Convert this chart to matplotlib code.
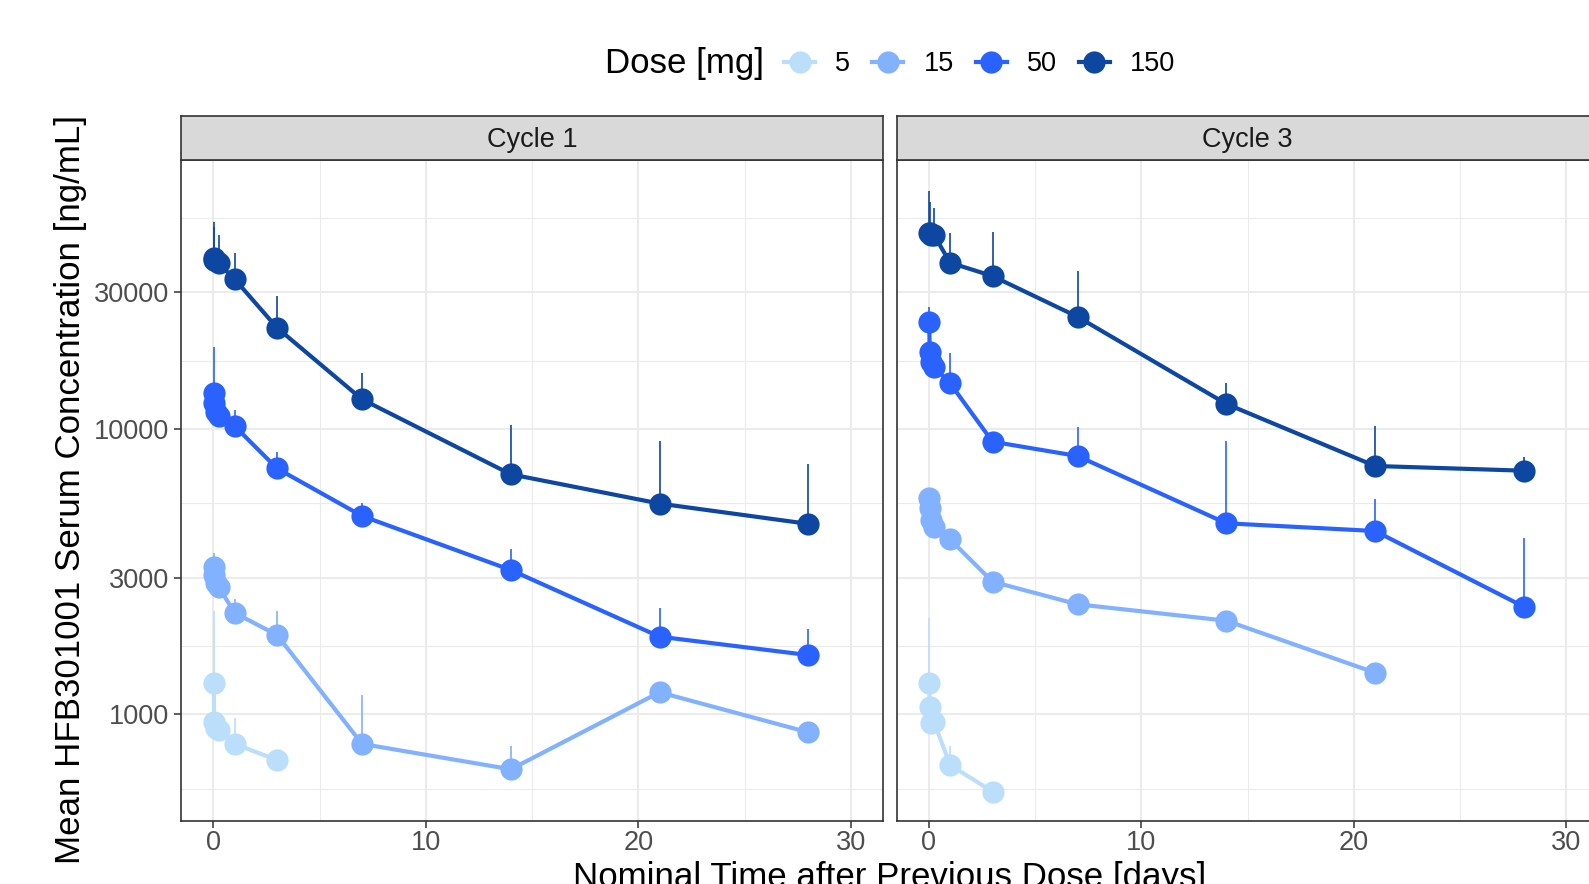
import numpy as np
import matplotlib
matplotlib.use("Agg")
import matplotlib.pyplot as plt
from matplotlib.lines import Line2D
from matplotlib.ticker import FixedLocator, NullFormatter, FixedFormatter

plt.rcParams['font.family'] = ['Liberation Sans', 'DejaVu Sans']

nan = np.nan

# ---------------- data ----------------
doses = ["5", "15", "50", "150"]
dose_colors = ["#BBDEFB", "#82B1FF", "#2962FF", "#0D47A1"]
cycles = ["Cycle 1", "Cycle 3"]

t_short = [0.021, 0.042, 0.125, 0.25, 1, 3]
t_mid = [0.021, 0.042, 0.125, 0.25, 1, 3, 7, 14, 21]
t_full = [0.021, 0.042, 0.125, 0.25, 1, 3, 7, 14, 21, 28]

# Cycle 1: mean and mean+SD
c1_5_mean = [1286, 944, 895, 883, 789, 693]
c1_5_upper = [2305, nan, nan, nan, 970, nan]
c1_15_mean = [3290, 3076, 2877, 2800, 2270, 1897, 789, 643, 1196, 866]
c1_15_upper = [3665, nan, nan, nan, 2530, 2305, 1170, 778, nan, nan]
c1_50_mean = [13370, 12330, 11470, 11070, 10220, 7260, 4950, 3203, 1872, 1614]
c1_50_upper = [19270, nan, nan, nan, 11610, 8320, 5510, 3785, 2366, 1991]
c1_150_mean = [39700, 39000, 38500, 37850, 33400, 22550, 12670, 6925, 5470, 4645]
c1_150_upper = [53000, 50800, nan, 47700, 41100, 29200, 15630, 10300, 9080, 7500]

# Cycle 3: mean and mean+SD
c3_5_mean = [1286, 1065, 931, 940, 666, 537]
c3_5_upper = [2182, nan, nan, nan, 776, nan]
c3_15_mean = [5710, 5265, 4792, 4540, 4100, 2915, 2430, 2129, 1400]
c3_15_upper = [nan, nan, nan, nan, nan, nan, nan, nan, nan]
c3_50_mean = [23700, 18590, 17150, 16470, 14420, 9005, 8025, 4667, 4385, 2383]
c3_50_upper = [26600, nan, nan, nan, 18450, nan, 10110, 9060, 5665, 4135]
c3_150_mean = [48500, 48300, 47800, 47600, 38100, 34200, 24640, 12210, 7405, 7130]
c3_150_upper = [68000, 62300, nan, 59000, 48300, 48650, 35600, 14420, 10220, 7980]

y_breaks = [1000, 3000, 10000, 30000]
x_breaks = [0, 10, 20, 30]

panel_data = {
    "Cycle 1": [(t_short, c1_5_mean, c1_5_upper),
                (t_full, c1_15_mean, c1_15_upper),
                (t_full, c1_50_mean, c1_50_upper),
                (t_full, c1_150_mean, c1_150_upper)],
    "Cycle 3": [(t_short, c3_5_mean, c3_5_upper),
                (t_mid, c3_15_mean, c3_15_upper),
                (t_full, c3_50_mean, c3_50_upper),
                (t_full, c3_150_mean, c3_150_upper)],
}

# ---------------- layout ----------------
W, H = 1589, 884
fig = plt.figure(figsize=(W / 100, H / 100), dpi=100)

def fx(px):
    return px / W

def fy(py):
    return 1 - py / H

panel_top, panel_bot = 160.1, 820.9
strip_top = 115.5
panel_lefts = [181.4, 896.9]
panel_w = 701.3

tick_col = "#4D4D4D"
frame_col = "#333333"
grid_col = "#EBEBEB"
small_fs = 19.5
big_fs = 25.1
line_w = 3.0
marker_s = 16.0

minor_y = [10 ** v for v in [2.7386, 3.2386, 3.7386, 4.2386, 4.7386]]

for i, cyc in enumerate(cycles):
    left = panel_lefts[i]
    ax = fig.add_axes([fx(left), fy(panel_bot), panel_w / W, (panel_bot - panel_top) / H])
    ax.set_yscale("log")
    ax.set_xlim(-1.5, 31.5)
    ax.set_ylim(424.3, 87060)
    ax.yaxis.set_major_locator(FixedLocator(y_breaks))
    ax.yaxis.set_minor_locator(FixedLocator(minor_y))
    ax.yaxis.set_minor_formatter(NullFormatter())
    ax.xaxis.set_major_locator(FixedLocator(x_breaks))
    ax.xaxis.set_minor_locator(FixedLocator([5, 15, 25]))
    ax.grid(True, which="major", color=grid_col, lw=1.4, zorder=0)
    ax.grid(True, which="minor", color=grid_col, lw=0.8, zorder=0)
    ax.set_axisbelow(True)
    for sp in ax.spines.values():
        sp.set_color(frame_col)
        sp.set_linewidth(1.2)
        sp.set_zorder(5)
    ax.tick_params(which="major", direction="out", length=5, width=1.1,
                   color=frame_col, labelcolor=tick_col, labelsize=small_fs)
    ax.tick_params(which="minor", length=0)
    ax.tick_params(axis="x", pad=1.5)
    ax.tick_params(axis="y", pad=3.5)
    if i == 0:
        ax.yaxis.set_major_formatter(FixedFormatter([str(v) for v in y_breaks]))
    else:
        ax.tick_params(axis="y", which="both", left=False, labelleft=False)
    ax.xaxis.set_major_formatter(FixedFormatter([str(v) for v in x_breaks]))

    series = panel_data[cyc]
    # lines layer
    for (t, m, u), c in zip(series, dose_colors):
        ax.plot(t, m, "-", color=c, lw=line_w, zorder=2, solid_capstyle="butt")
    # error bar layer (mean to mean+SD)
    for (t, m, u), c in zip(series, dose_colors):
        t_a, m_a, u_a = np.array(t), np.array(m, float), np.array(u, float)
        ok = ~np.isnan(u_a)
        ax.vlines(t_a[ok], m_a[ok], u_a[ok], color=c, lw=1.2, zorder=2.5)
    # points layer
    for (t, m, u), c in zip(series, dose_colors):
        ax.plot(t, m, "o", color=c, ms=marker_s, mew=0, zorder=3, linestyle="none")

    # strip
    sax = fig.add_axes([fx(left), fy(panel_top), panel_w / W, (panel_top - strip_top) / H])
    sax.set_facecolor("#D9D9D9")
    sax.set_xticks([])
    sax.set_yticks([])
    for sp in sax.spines.values():
        sp.set_color(frame_col)
        sp.set_linewidth(1.2)
    sax.text(0.5, 0.44, cyc, ha="center", va="center", fontsize=small_fs,
             color="#1A1A1A", transform=sax.transAxes)

# axis titles
fig.text(fx(80), fy((panel_top + panel_bot) / 2 - 1), "Mean HFB301001 Serum Concentration [ng/mL]",
         rotation=90, rotation_mode="anchor", ha="center", va="baseline",
         fontsize=big_fs, color="black")
fig.text(fx((panel_lefts[0] + panel_lefts[1] + panel_w) / 2), fy(887),
         "Nominal Time after Previous Dose [days]", ha="center", va="baseline",
         fontsize=big_fs, color="black")

# legend
leg_y = 64
fig.text(fx(605), fy(leg_y), "Dose [mg]", ha="left", va="center", fontsize=big_fs, color="black")
handles = [Line2D([0], [0], color=c, lw=line_w, marker="o", ms=marker_s, mew=0) for c in dose_colors]
fig.legend(handles, doses, loc="center left", bbox_to_anchor=(fx(784), fy(leg_y)), ncol=4,
           frameon=False, fontsize=small_fs, handlelength=1.15, handletextpad=0.75,
           columnspacing=0.8, borderpad=0, borderaxespad=0)

fig.savefig("out.png", dpi=100)
